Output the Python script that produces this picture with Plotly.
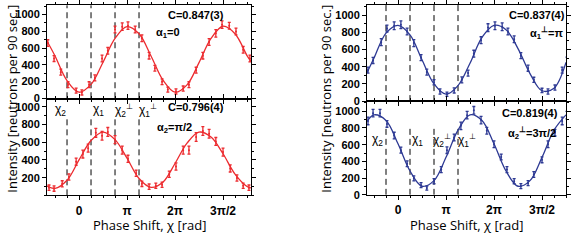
import plotly.graph_objects as go

# ---- data (phase shift chi in units of pi) ----
tl_x = [-0.65,-0.52,-0.38,-0.23,-0.06,0.06,0.21,0.33,0.48,0.60,0.75,0.90,1.02,1.17,1.31,1.46,1.58,1.73,1.85,2.02,2.17,2.29,2.44,2.58,2.71,2.85,2.98,3.13,3.27,3.42,3.56]
tl_y = [659,474,312,162,92,69,162,243,474,566,821,855,867,821,717,509,358,197,104,81,116,162,335,509,671,775,879,867,798,578,474]
tl_err = [40,35,35,35,30,30,35,35,40,40,40,45,45,40,40,40,35,35,30,30,30,35,35,40,40,45,45,40,40,40,40]

bl_x = [-0.625,-0.52,-0.35,-0.21,-0.06,0.08,0.19,0.35,0.48,0.60,0.75,0.90,1.02,1.19,1.31,1.46,1.60,1.73,1.88,2.02,2.17,2.29,2.44,2.58,2.71,2.85,3.00,3.15,3.29,3.42,3.54]
bl_y = [87,76,130,207,380,467,533,707,674,717,630,511,413,250,130,98,109,120,239,326,511,511,660,728,696,609,489,304,196,109,87]
bl_err = [30,30,35,35,40,45,45,50,50,50,45,45,40,35,30,30,30,30,35,40,45,45,50,50,50,45,45,40,35,30,30]

tr_x = [-0.625,-0.52,-0.35,-0.23,-0.08,0.06,0.19,0.33,0.48,0.60,0.75,0.875,1.02,1.17,1.33,1.46,1.58,1.73,1.875,2.02,2.17,2.29,2.42,2.56,2.71,2.83,3.0,3.125,3.27,3.42,3.52]
tr_y = [360,472,685,843,876,888,809,674,506,337,219,112,79,124,247,326,551,708,854,876,865,809,719,528,382,247,124,112,157,360,472]
tr_err = [35,35,40,40,45,45,40,40,35,35,30,30,25,30,35,35,40,40,45,45,45,40,40,35,35,30,25,30,30,35,40]

br_x = [-0.625,-0.52,-0.375,-0.23,-0.08,0.06,0.19,0.33,0.48,0.60,0.75,0.90,1.02,1.17,1.31,1.44,1.58,1.73,1.85,2.0,2.15,2.27,2.42,2.56,2.71,2.83,3.0,3.125,3.27,3.42,3.52]
br_y = [884,977,977,849,709,535,372,198,116,81,163,302,535,686,826,953,1012,895,767,605,453,302,163,105,140,244,419,605,744,884,953]
br_err = [45,45,45,40,40,35,35,30,30,25,30,35,40,40,45,45,45,45,40,40,35,35,30,30,30,35,35,40,40,45,45]

# fitted curves, read at quarter-pi steps
fitL_x = [-0.667,-0.5,-0.25,0,0.25,0.5,0.75,1,1.25,1.5,1.75,2,2.25,2.5,2.75,3,3.25,3.5,3.583]
fit_tl = [684,505,210,72,165,430,715,855,770,505,215,72,160,425,715,860,770,510,440]
fit_bl = [105,78,170,400,620,715,630,420,190,90,150,360,590,715,660,470,240,100,85]
fitR_x = [-0.646,-0.5,-0.25,0,0.25,0.5,0.75,1,1.25,1.5,1.75,2,2.25,2.5,2.75,3,3.25,3.5]
fit_tr = [330,500,790,880,770,480,200,80,180,440,740,880,830,610,320,120,150,450]
fit_br = [878,957,890,611,285,103,170,449,774,957,890,611,285,103,170,449,774,957]

chi_lines = [-0.25, 0.25, 0.75, 1.25]
chi_labels = ["χ<sub>2</sub>", "χ<sub>1</sub>", "χ<sub>2</sub><sup>⊥</sup>", "χ<sub>1</sub><sup>⊥</sup>"]
x_tickvals = [0, 1, 2, 3]
x_ticktext = ["0", "π", "2π", "3π/2"]
y_ticks = [0, 200, 400, 600, 800, 1000]

RED = "#ec2b2f"
BLUE = "#2e3a94"
W, H = 572, 240

def px(x):
    return x / W

def py(y):
    return 1 - y / H

fig = go.Figure()

panels = [
    ("x", "y", tl_x, tl_y, tl_err, fitL_x, fit_tl, RED),
    ("x2", "y2", bl_x, bl_y, bl_err, fitL_x, fit_bl, RED),
    ("x3", "y3", tr_x, tr_y, tr_err, fitR_x, fit_tr, BLUE),
    ("x4", "y4", br_x, br_y, br_err, fitR_x, fit_br, BLUE),
]
for xa, ya, dx, dy, de, fx, fy, col in panels:
    fig.add_trace(go.Scatter(x=fx, y=fy, mode="lines", line=dict(color=col, width=1.3, shape="spline", smoothing=1.0),
                             xaxis=xa, yaxis=ya, showlegend=False, hoverinfo="skip"))
    fig.add_trace(go.Scatter(x=dx, y=dy, mode="markers", marker=dict(color=col, size=2),
                             error_y=dict(type="data", array=de, visible=True, color=col, thickness=1.3, width=1.5),
                             xaxis=xa, yaxis=ya, showlegend=False))

# dashed chi lines
for xa, ya, top in [("x", "y", 1110), ("x2", "y2", 880), ("x3", "y3", 1118), ("x4", "y4", 820)]:
    for c in chi_lines:
        fig.add_shape(type="line", xref=xa, yref=ya, x0=c, x1=c, y0=0, y1=top,
                      line=dict(color="black", width=1, dash="6px,4px"), layer="below")

tickfont = dict(family="Liberation Sans, Arial", size=11, color="black", weight="bold")
axcommon = dict(showline=True, linecolor="black", linewidth=1, mirror="ticks", ticks="outside",
                ticklen=4, tickcolor="black", showgrid=False, zeroline=False, tickfont=tickfont)

xL = [px(47), px(251)]
xR = [px(367), px(566)]
yTL = [py(100), py(3)]
yBL = [py(200), py(100)]
yTR = [py(102.5), py(3)]
yBR = [py(199.5), py(102.5)]

xminor = dict(ticks="outside", ticklen=2, dtick=0.25, tickcolor="black")
yminor = dict(ticks="outside", ticklen=2, dtick=100, tickcolor="black")

xtickfont = dict(family="Liberation Sans, Arial", size=12, color="black", weight="bold")

fig.update_layout(
    width=W, height=H, margin=dict(l=0, r=0, t=0, b=0),
    paper_bgcolor="white", plot_bgcolor="white",
    xaxis=dict(axcommon, domain=xL, range=[-0.667, 3.583], anchor="y", tickvals=x_tickvals, showticklabels=False, minor=xminor),
    yaxis=dict(axcommon, domain=yTL, range=[-5, 1115], anchor="x", tickvals=y_ticks, minor=yminor),
    xaxis2=dict(axcommon, domain=xL, range=[-0.667, 3.583], anchor="y2", tickvals=x_tickvals, ticktext=x_ticktext,
                minor=xminor, tickfont=xtickfont),
    yaxis2=dict(axcommon, domain=yBL, range=[0, 1093], anchor="x2", tickvals=y_ticks[1:], minor=yminor),
    xaxis3=dict(axcommon, domain=xR, range=[-0.646, 3.5], anchor="y3", tickvals=x_tickvals, showticklabels=False, minor=xminor),
    yaxis3=dict(axcommon, domain=yTR, range=[0, 1118], anchor="x3", tickvals=y_ticks, minor=yminor),
    xaxis4=dict(axcommon, domain=xR, range=[-0.646, 3.5], anchor="y4", tickvals=x_tickvals, ticktext=x_ticktext,
                minor=xminor, tickfont=xtickfont),
    yaxis4=dict(axcommon, domain=yBR, range=[0, 1122], anchor="x4", tickvals=y_ticks, minor=yminor),
)

annfont = dict(family="Liberation Sans, Arial", size=11, color="black", weight="bold")
labfont = dict(family="Liberation Sans, Arial", size=12, color="black")
titlefont = dict(family="Open Sans, Liberation Sans", size=13, color="black")

def ann(text, x, y, font=annfont, angle=0):
    fig.add_annotation(text=text, x=px(x), y=py(y), xref="paper", yref="paper", showarrow=False,
                       font=font, textangle=angle, xanchor="center", yanchor="middle")

ann("C=0.847(3)", 196, 13)
ann("α<sub>1</sub>=0", 168, 32)
ann("C=0.796(4)", 196, 109)
ann("α<sub>2</sub>=π/2", 174, 130)
ann("C=0.837(4)", 537, 13)
ann("α<sub>1</sub><sup>⊥</sup>=π", 546, 32)
ann("C=0.819(4)", 530, 115)
ann("α<sub>2</sub><sup>⊥</sup>=3π/2", 532, 135)

for lab, xpos in zip(chi_labels, [60, 98, 124, 148]):
    ann(lab, xpos, 112, labfont)
for lab, xpos in zip(chi_labels, [377, 417, 442, 467]):
    ann(lab, xpos, 143, labfont)

ann("Intensity [neutrons per 90 sec.]", 12, 100, titlefont, -90)
ann("Intensity [neutrons per 90 sec.]", 326, 100, titlefont, -90)
ann("Phase Shift, χ [rad]", 149, 230.5, titlefont)
ann("Phase Shift, χ [rad]", 466, 230.5, titlefont)

fig.write_html(
    "out.html",
    config={"displayModeBar": False},
    post_script="document.body.style.margin='0';document.body.style.padding='0';document.body.style.overflow='hidden';",
)
